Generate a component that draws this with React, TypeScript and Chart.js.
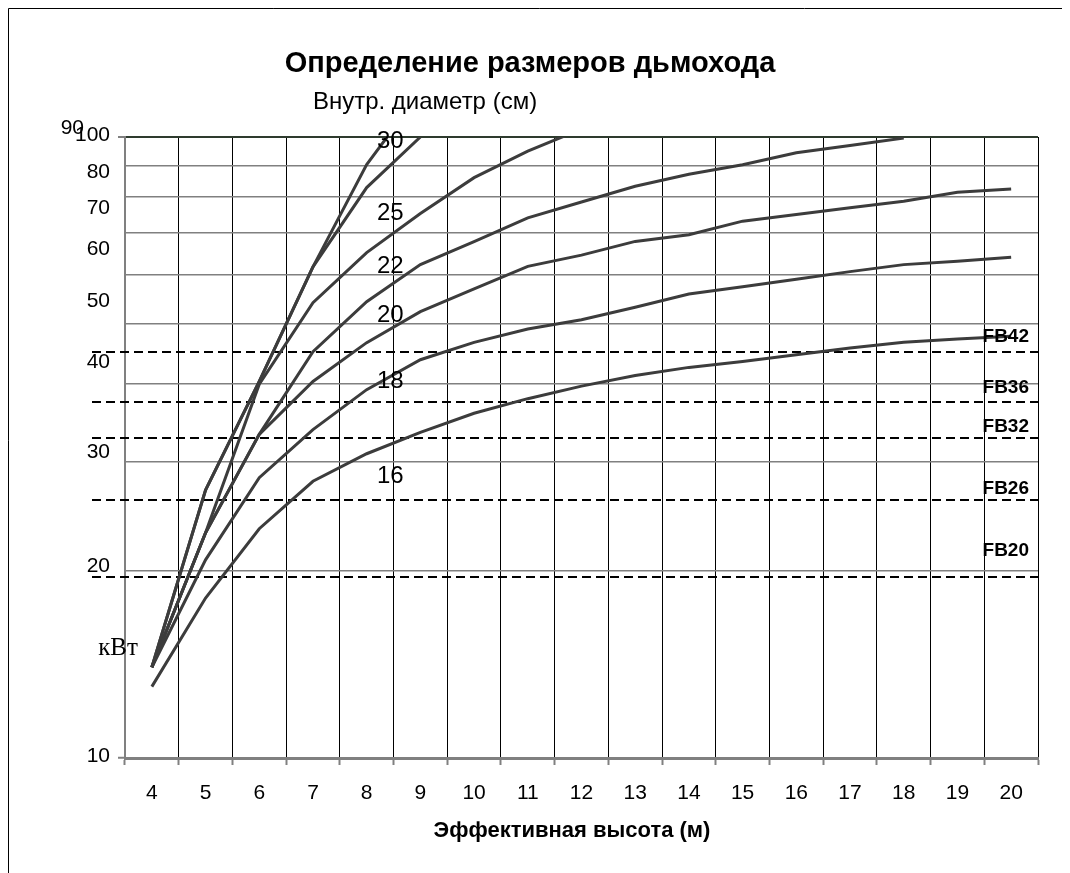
import React, { useEffect, useRef } from 'react';
import { Chart, registerables } from 'chart.js';

Chart.register(...registerables);

// ---- data ----
const heights = ['4', '5', '6', '7', '8', '9', '10', '11', '12', '13', '14', '15', '16', '17', '18', '19', '20'];

const curve30 = [14.0, 27.0, 40.4, 61.8, 90.3, 118, null, null, null, null, null, null, null, null, null, null, null];
const curveA = [14.0, 27.0, 40.4, 61.8, 82.9, 100, null, null, null, null, null, null, null, null, null, null, null];
const curveB = [14.0, 23.05, 40.0, 54.1, 65.15, 75.3, 86.0, 94.9, 103, null, null, null, null, null, null, null, null];
const curveC = [14.0, 23.05, 33.2, 45.1, 54.3, 62.3, 67.85, 74.1, 78.6, 83.3, 87.1, 90.2, 94.3, 96.9, 99.6, null, null];
const curveD = [14.0, 23.05, 33.2, 40.4, 46.65, 52.33, 56.93, 61.9, 64.54, 67.9, 69.6, 73.2, 75.0, 76.9, 78.8, 81.5, 82.5];
const curveE = [14.0, 20.85, 28.27, 33.79, 39.19, 43.79, 46.7, 49.08, 50.8, 53.2, 55.85, 57.4, 59.0, 60.7, 62.3, 63.1, 64.0];
const curveF = [13.03, 18.1, 23.4, 27.9, 30.9, 33.45, 35.9, 37.9, 39.7, 41.3, 42.56, 43.5, 44.6, 45.74, 46.7, 47.3, 47.75];

// diameter labels and where they sit (category position, kW value)
const diameterLabels = ['30', '25', '22', '20', '18', '16'];
const diameterLabelAt = [98.4, 75.3, 61.9, 51.6, 40.4, 28.4];
const diameterLabelCategory = 4.44;

// stove reference lines
const stoveNames = ['FB42', 'FB36', 'FB32', 'FB26', 'FB20'];
const stoveValues = [45.06, 37.4, 32.7, 26.0, 19.6];

// y tick labels and the value at which each one is printed
const yTickValues = [10, 20, 30, 40, 50, 60, 70, 80, 90, 100];
const yTickLabels = ['10', '20', '30', '40', '50', '60', '70', '80', '90', '100'];
const yTickLabelAt = [10.07, 20.39, 31.12, 43.46, 54.31, 65.87, 76.7, 87.65, 103.2, 100.5];

const titleText = 'Определение размеров дьмохода';
const subtitleText = 'Внутр. диаметр (см)';
const xTitleText = 'Эффективная высота (м)';
const yTitleText = 'кВт';

const W = 1062;
const H = 865;
const LINE = '#3c3c3c';

const textPlugin = {
  id: 'chimneyTexts',
  beforeDatasetsDraw(chart: any) {
    const { ctx, chartArea, scales } = chart;
    const y = scales.y;
    ctx.save();
    ctx.strokeStyle = '#000';
    ctx.lineWidth = 2;
    ctx.setLineDash([9, 5]);
    stoveValues.forEach((v) => {
      const py = Math.round(y.getPixelForValue(v));
      ctx.beginPath();
      ctx.moveTo(84, py);
      ctx.lineTo(chartArea.right, py);
      ctx.stroke();
    });
    ctx.restore();
  },
  afterDraw(chart: any) {
    const { ctx, chartArea, scales } = chart;
    const x = scales.x;
    const y = scales.y;
    ctx.save();
    // frame
    ctx.strokeStyle = '#000';
    ctx.lineWidth = 1;
    ctx.setLineDash([]);
    ctx.beginPath();
    ctx.moveTo(0.5, H);
    ctx.lineTo(0.5, 0.5);
    ctx.lineTo(W, 0.5);
    ctx.stroke();

    ctx.fillStyle = '#000';
    ctx.textBaseline = 'middle';

    // titles
    ctx.textAlign = 'center';
    ctx.font = 'bold 29px "Liberation Sans", Arial, sans-serif';
    ctx.fillText(titleText, 522, 56);
    ctx.font = '24px "Liberation Sans", Arial, sans-serif';
    ctx.fillText(subtitleText, 417, 94);
    ctx.font = 'bold 22px "Liberation Sans", Arial, sans-serif';
    ctx.fillText(xTitleText, 564, 823);
    ctx.font = '25px "Liberation Serif", "Times New Roman", serif';
    ctx.fillText(yTitleText, 110, 640);

    // y tick labels
    ctx.textAlign = 'right';
    ctx.font = '21px "Liberation Sans", Arial, sans-serif';
    yTickLabels.forEach((t, i) => {
      const py = y.getPixelForValue(yTickLabelAt[i]);
      const rx = t === '90' ? 76 : 102;
      ctx.fillText(t, rx, py);
    });

    // diameter labels
    ctx.textAlign = 'center';
    ctx.font = '24px "Liberation Sans", Arial, sans-serif';
    const lx = x.getPixelForValue(diameterLabelCategory);
    diameterLabels.forEach((t, i) => {
      ctx.fillText(t, lx, y.getPixelForValue(diameterLabelAt[i]));
    });

    // stove labels
    ctx.textAlign = 'right';
    ctx.font = 'bold 19px "Liberation Sans", Arial, sans-serif';
    const offs = [15, 14, 12, 12, 26];
    stoveNames.forEach((t, i) => {
      const py = y.getPixelForValue(stoveValues[i]) - offs[i];
      ctx.fillText(t, chartArea.right - 9, py);
    });
    ctx.restore();
  },
};

export default function App() {
  const ref = useRef<HTMLCanvasElement | null>(null);

  useEffect(() => {
    if (!ref.current) return;
    const mk = (data: (number | null)[]) => ({
      data,
      borderColor: LINE,
      backgroundColor: LINE,
      borderWidth: 3,
      pointRadius: 0,
      tension: 0,
      spanGaps: false,
      clip: { left: 5, right: 5, top: 0, bottom: 5 },
    });
    const chart = new Chart(ref.current, {
      type: 'line',
      data: {
        labels: heights,
        datasets: [mk(curve30), mk(curveA), mk(curveB), mk(curveC), mk(curveD), mk(curveE), mk(curveF)],
      },
      plugins: [textPlugin],
      options: {
        animation: false,
        responsive: false,
        maintainAspectRatio: false,
        layout: { padding: { top: 129, right: 32, left: 0, bottom: 0 } },
        plugins: {
          legend: { display: false },
          title: { display: false },
          tooltip: { enabled: false },
        },
        scales: {
          x: {
            type: 'category',
            offset: true,
            grid: {
              offset: true,
              color: (c: any) => (c.index === heights.length ? '#808080' : '#000'),
              lineWidth: (c: any) => (c.index === heights.length ? 2 : 1),
              drawTicks: true,
              tickLength: 7,
              tickColor: '#808080',
              tickWidth: 2,
            },
            border: { color: '#808080', width: 3 },
            ticks: {
              color: '#000',
              font: { family: '"Liberation Sans", Arial, sans-serif', size: 21 },
              padding: 16,
              maxRotation: 0,
              autoSkip: false,
            },
            afterFit: (s: any) => {
              s.height = 115;
            },
          },
          y: {
            type: 'logarithmic',
            min: 10,
            max: 100,
            afterBuildTicks: (s: any) => {
              s.ticks = yTickValues.map((v) => ({ value: v }));
            },
            grid: {
              color: (c: any) => (c.tick && c.tick.value === 100 ? '#2e3b2e' : '#808080'),
              lineWidth: (c: any) => (c.tick && c.tick.value === 100 ? 2 : 1.5),
              drawTicks: true,
              tickLength: 7,
              tickColor: (c: any) => (c.tick && (c.tick.value === 10 || c.tick.value === 100) ? '#808080' : 'rgba(0,0,0,0)'),
              tickWidth: 2,
            },
            border: { color: '#808080', width: 2 },
            ticks: {
              callback: () => '',
              font: { size: 20 },
            },
            afterFit: (s: any) => {
              s.width = 117;
            },
          },
        },
      },
    });
    return () => chart.destroy();
  }, []);

  return (
    <div style={{ width: W, height: H }}>
      <canvas ref={ref} width={W} height={H} style={{ display: 'block', width: W, height: H }} />
    </div>
  );
}
